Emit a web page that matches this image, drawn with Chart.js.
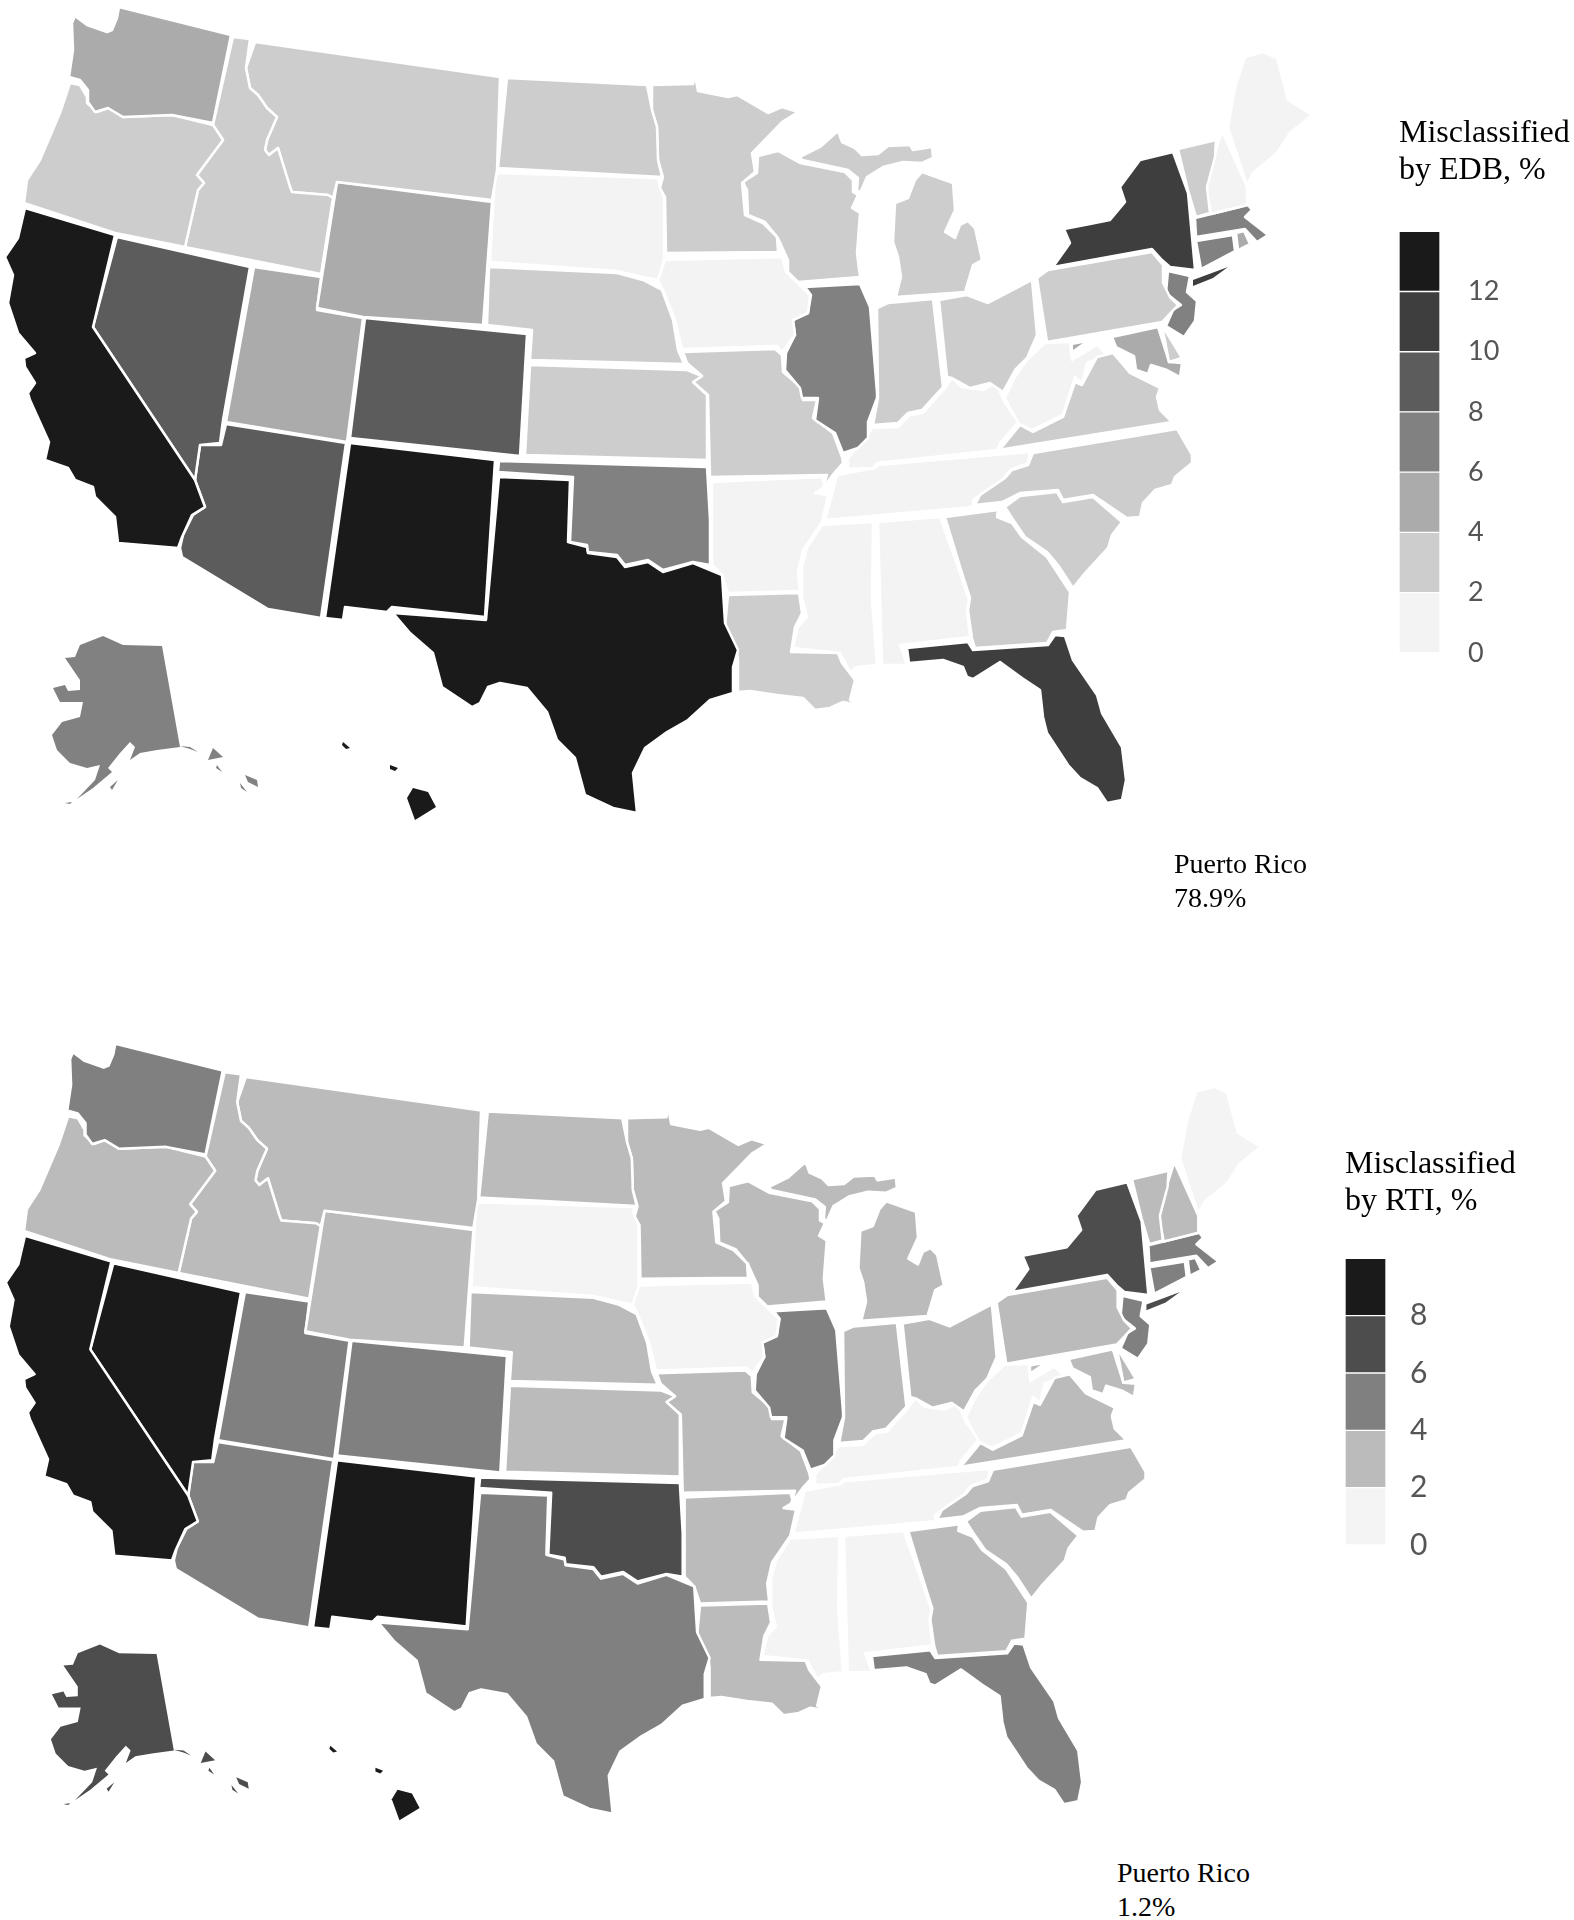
<!DOCTYPE html>
<html>
<head>
<meta charset="utf-8">
<title>Misclassified by EDB and RTI</title>
<script src="https://cdn.jsdelivr.net/npm/chart.js@4"></script>
<style>
body { margin: 0; background: #fff; }
#page { position: relative; width: 1574px; height: 1920px; overflow: hidden; }
canvas { position: absolute; }
#mapEdb { left: 0; top: 0; }
#mapRti { left: 1px; top: 1037px; }
#legendEdb { left: 1399px; top: 105px; }
#legendRti { left: 1345px; top: 1136px; }
.note { position: absolute; font: 28px/34px "Liberation Serif", serif; color: #000; }
</style>
</head>
<body>
<div id="page">
  <canvas id="mapEdb" width="1380" height="850"></canvas>
  <canvas id="mapRti" width="1325" height="812"></canvas>
  <canvas id="legendEdb" width="175" height="592"></canvas>
  <canvas id="legendRti" width="175" height="451"></canvas>
  <div class="note" style="left:1174px;top:847px">Puerto Rico<br>78.9%</div>
  <div class="note" style="left:1117px;top:1856px">Puerto Rico<br>1.2%</div>
</div>
<script>
// state outlines, in map units
const WA = [[119,7],[231,35],[213,123],[172,115],[123,117],[108,108],[95,112],[88,102],[88,90],[80,80],[69,77],[73,50],[72,23],[75,16],[87,25],[107,32],[112,30],[117,18]];
const OR = [[70,83],[80,85],[87,97],[87,103],[97,112],[108,108],[123,117],[172,115],[213,125],[223,140],[197,175],[204,183],[198,190],[185,247],[115,233],[24,203],[27,180],[40,160],[60,113]];
const ID = [[233,37],[250,39],[246,68],[250,88],[258,95],[267,108],[277,117],[267,140],[265,150],[269,155],[278,148],[290,187],[292,192],[328,195],[333,198],[321,274],[185,247],[198,190],[204,183],[197,175],[223,140],[213,125]];
const MT = [[255,42],[500,77],[497,170],[492,200],[337,182],[333,198],[328,195],[292,192],[290,187],[278,148],[269,155],[265,150],[267,140],[277,117],[267,108],[258,95],[250,88],[246,68]];
const WY = [[337,182],[492,202],[483,325],[363,317],[317,308]];
const CA = [[25,208],[115,235],[93,327],[195,480],[205,507],[192,515],[182,537],[178,548],[118,543],[115,517],[95,497],[93,487],[75,480],[68,468],[45,460],[49,442],[30,400],[28,393],[35,383],[25,367],[24,358],[35,353],[18,333],[8,303],[13,275],[5,257],[18,238]];
const NV = [[117,237],[250,267],[223,420],[220,443],[200,445],[195,480],[93,327]];
const UT = [[254,267],[321,277],[317,310],[363,318],[347,442],[226,422]];
const AZ = [[226,424],[346,443],[321,618],[268,609],[182,557],[180,548],[183,535],[193,515],[205,507],[195,480],[200,445],[221,445]];
const NM = [[350,443],[495,460],[485,617],[392,607],[387,612],[345,607],[343,620],[325,618]];
const CO = [[365,318],[527,334],[520,456],[350,438]];
const ND = [[507,78],[647,85],[652,110],[657,127],[658,160],[662,177],[498,168]];
const SD = [[495,173],[658,178],[660,188],[664,197],[664,260],[658,280],[643,277],[617,271],[490,262]];
const NE = [[489,267],[617,273],[643,280],[662,290],[673,320],[678,350],[684,364],[530,360],[532,330],[487,325]];
const KS = [[530,365],[687,370],[702,376],[693,382],[707,395],[707,460],[525,455]];
const OK = [[499,461],[707,467],[710,520],[710,565],[693,562],[663,570],[648,560],[625,565],[617,555],[588,552],[587,545],[570,542],[573,477],[498,472]];
const TX = [[499,477],[570,480],[568,542],[587,547],[588,553],[617,557],[625,567],[648,562],[663,572],[693,563],[722,575],[725,623],[738,650],[733,667],[733,693],[710,700],[688,720],[667,732],[645,748],[633,773],[637,813],[613,808],[585,795],[575,758],[557,740],[547,712],[527,688],[500,683],[488,687],[480,703],[472,707],[442,687],[433,653],[410,633],[393,613],[486,620]];
const MN = [[652,85],[693,84],[695,75],[698,91],[728,97],[737,95],[768,113],[782,107],[798,112],[782,122],[752,153],[755,172],[742,183],[745,215],[763,223],[777,237],[778,252],[666,253],[665,197],[660,188],[663,177],[658,160],[657,127],[652,110]];
const WI = [[758,156],[778,151],[800,163],[845,172],[853,180],[853,192],[858,195],[852,208],[860,213],[857,253],[860,277],[798,282],[788,272],[788,260],[778,238],[765,222],[748,215],[747,190],[743,182],[757,173]];
const IA = [[665,260],[782,257],[786,272],[810,295],[808,313],[793,320],[795,335],[782,352],[777,346],[682,349],[675,320],[663,290],[658,280]];
const IL = [[805,287],[860,284],[870,307],[877,393],[877,398],[868,422],[868,438],[858,448],[843,453],[835,433],[815,420],[818,398],[802,398],[800,388],[785,370],[786,353],[795,335],[793,320],[808,313],[811,295]];
const IN = [[877,308],[888,303],[933,299],[943,387],[922,410],[908,413],[898,423],[873,425],[878,398]];
const OH = [[939,300],[967,295],[988,303],[1032,280],[1037,335],[1027,358],[1015,370],[1003,392],[990,383],[970,388],[952,378],[947,377]];
const MI_LOWER = [[922,172],[953,183],[955,210],[945,232],[955,238],[960,225],[968,221],[975,228],[982,260],[973,265],[965,292],[896,297],[901,277],[898,257],[893,242],[895,203],[908,198],[915,180]];
const MI_UPPER = [[800,157],[820,147],[838,131],[842,142],[855,148],[862,155],[878,154],[888,146],[910,145],[913,150],[932,147],[933,158],[922,163],[903,162],[883,167],[867,177],[860,193],[857,190],[858,178],[848,170],[802,160]];
const MO = [[683,352],[775,349],[782,355],[783,372],[802,388],[803,400],[817,400],[813,418],[833,433],[842,457],[843,463],[835,472],[823,488],[827,475],[710,477],[708,395],[693,382],[702,376],[687,363]];
const AR = [[712,482],[822,477],[825,487],[815,493],[828,495],[822,522],[803,550],[798,572],[800,591],[728,593],[722,575],[712,565],[712,510]];
const LA = [[728,595],[799,593],[802,613],[795,627],[791,652],[838,653],[842,663],[855,680],[850,700],[859,705],[843,702],[830,708],[815,710],[803,698],[777,695],[750,691],[738,692],[738,660],[737,650],[725,627]];
const MS = [[822,525],[873,522],[872,600],[877,665],[857,667],[850,672],[840,653],[793,648],[798,627],[807,617],[802,597],[802,567],[807,548]];
const AL = [[878,522],[940,517],[960,573],[969,600],[967,610],[970,637],[900,645],[907,665],[882,665]];
const GA = [[945,517],[998,510],[997,517],[1012,523],[1022,537],[1047,557],[1070,592],[1067,630],[1053,632],[1047,643],[975,648],[972,638],[968,610],[970,598],[962,573]];
const FL = [[907,648],[968,642],[973,650],[1048,645],[1055,635],[1065,636],[1073,660],[1097,695],[1102,713],[1122,747],[1126,780],[1122,800],[1107,803],[1097,788],[1080,778],[1068,765],[1047,733],[1043,717],[1040,690],[1022,678],[1000,662],[973,679],[967,677],[963,667],[943,660],[909,663]];
const SC = [[1005,507],[1020,496],[1057,492],[1063,502],[1093,497],[1122,522],[1112,535],[1108,548],[1085,573],[1073,588],[1058,565],[1047,552],[1025,537],[1012,518]];
const NC = [[1033,453],[1177,429],[1192,455],[1192,463],[1175,477],[1172,485],[1155,490],[1143,503],[1140,517],[1127,518],[1093,495],[1063,500],[1058,490],[1020,493],[1002,502],[975,505],[980,495],[1005,478],[1012,470],[1028,465]];
const TN = [[837,475],[875,468],[878,465],[1030,452],[1028,463],[1010,470],[1002,480],[987,490],[973,500],[973,507],[825,520],[832,495]];
const KY = [[872,428],[898,427],[910,415],[923,413],[945,388],[952,378],[962,387],[983,390],[995,383],[1000,392],[1005,403],[1018,422],[1000,443],[997,450],[877,463],[873,468],[848,469],[848,458],[855,450],[863,442]];
const VA = [[1002,447],[1020,425],[1033,432],[1063,417],[1075,382],[1082,385],[1097,357],[1113,353],[1130,373],[1160,388],[1157,397],[1160,410],[1172,422],[998,450]];
const WV = [[1005,398],[1015,377],[1027,360],[1045,343],[1070,342],[1072,360],[1097,345],[1107,355],[1087,363],[1082,383],[1075,377],[1063,415],[1032,430],[1018,423]];
const PA = [[1037,278],[1048,270],[1152,252],[1163,265],[1163,283],[1170,297],[1178,305],[1162,322],[1047,342]];
const NY = [[1053,267],[1070,243],[1064,229],[1090,224],[1110,220],[1125,202],[1120,187],[1140,160],[1173,152],[1188,193],[1195,270],[1170,267],[1162,260],[1152,249]];
const NY_ISLAND = [[1193,280],[1228,267],[1213,278],[1193,286]];
const VT = [[1178,149],[1216,140],[1215,157],[1207,187],[1210,213],[1196,217],[1188,190]];
const NH = [[1222,131],[1247,187],[1247,205],[1211,214],[1206,190],[1216,150]];
const ME = [[1228,127],[1247,185],[1253,173],[1277,153],[1290,133],[1312,115],[1288,100],[1277,58],[1263,52],[1245,57],[1235,88]];
const MA = [[1195,218],[1248,205],[1252,210],[1245,217],[1268,235],[1257,242],[1245,229],[1196,237]];
const CT = [[1196,241],[1233,235],[1235,251],[1201,269]];
const RI = [[1236,233],[1244,231],[1250,244],[1238,250]];
const NJ = [[1168,271],[1190,276],[1187,292],[1197,301],[1195,321],[1184,337],[1166,326],[1173,310],[1181,305],[1166,293]];
const DE = [[1162,325],[1182,358],[1169,362]];
const MD = [[1112,337],[1158,327],[1169,362],[1182,363],[1180,377],[1167,370],[1151,365],[1148,374],[1136,370],[1134,356],[1116,347]];
const MD_WEST = [[1073,345],[1083,343],[1073,350]];
const AK = [[103,636],[123,645],[162,646],[180,747],[157,750],[140,753],[130,760],[135,747],[130,742],[120,753],[108,768],[112,772],[93,788],[77,799],[95,780],[100,765],[87,768],[70,763],[57,750],[52,735],[62,722],[80,717],[83,702],[60,702],[53,688],[65,685],[68,691],[80,690],[80,680],[65,658],[75,657],[80,645]];
const AK_STRIP = [[180,746],[190,747],[198,752],[190,749]];
const AK_ISLE1 = [[213,748],[223,757],[208,760]];
const AK_ISLE2 = [[217,765],[222,772],[216,768]];
const AK_ISLE3 = [[245,775],[257,780],[258,787],[248,782]];
const AK_ISLE4 = [[240,783],[247,792],[241,788]];
const AK_ISLE5 = [[118,780],[112,790],[110,787]];
const AK_ISLE6 = [[65,803],[72,802],[70,804]];
const HI_BIG = [[413,788],[428,792],[436,807],[415,820],[407,798]];
const HI_MAUI = [[390,765],[398,768],[395,771],[390,769]];
const HI_KAUAI = [[343,742],[350,748],[346,749],[342,745]];

const stateNames = ['WA','OR','ID','MT','WY','CA','NV','UT','AZ','NM','CO','ND','SD','NE','KS','OK','TX','MN','WI','IA','IL','IN','OH','MI','MO','AR','LA','MS','AL','GA','FL','SC','NC','TN','KY','VA','WV','PA','NY','VT','NH','ME','MA','CT','RI','NJ','DE','MD','AK','HI'];
const stateOutlines = [[WA],[OR],[ID],[MT],[WY],[CA],[NV],[UT],[AZ],[NM],[CO],[ND],[SD],[NE],[KS],[OK],[TX],[MN],[WI],[IA],[IL],[IN],[OH],[MI_LOWER,MI_UPPER],[MO],[AR],[LA],[MS],[AL],[GA],[FL],[SC],[NC],[TN],[KY],[VA],[WV],[PA],[NY,NY_ISLAND],[VT],[NH],[ME],[MA],[CT],[RI],[NJ],[DE],[MD,MD_WEST],[AK,AK_STRIP,AK_ISLE1,AK_ISLE2,AK_ISLE3,AK_ISLE4,AK_ISLE5,AK_ISLE6],[HI_BIG,HI_MAUI,HI_KAUAI]];
// islands and such, the white border would eat them
const borderlessParts = [NY_ISLAND,MD_WEST,AK,AK_STRIP,AK_ISLE1,AK_ISLE2,AK_ISLE3,AK_ISLE4,AK_ISLE5,AK_ISLE6,HI_BIG,HI_MAUI,HI_KAUAI];

// percent misclassified, read from the shade of each state
const edbValues = [5,3,3,3,5,13,9,5,9,13,9,3,1,3,3,7,13,3,3,1,7,3,3,3,3,1,3,1,1,3,11,3,3,1,1,3,1,3,11,3,1,1,7,7,5,7,3,5,7,13];
const rtiValues = [5,3,3,3,3,9,9,5,5,9,5,3,1,3,3,7,5,3,3,1,5,3,3,3,3,3,3,1,1,3,5,3,3,1,1,3,1,3,7,3,3,1,5,5,5,5,3,3,7,9];

const edbColors = ['#f3f3f3','#cdcdcd','#ababab','#818181','#5c5c5c','#3e3e3e','#1a1a1a'];
const rtiColors = ['#f4f4f4','#bbbbbb','#808080','#4d4d4d','#1a1a1a'];
const edbTicks = [0,2,4,6,8,10,12];
const rtiTicks = [0,2,4,6,8];
const binSize = 2;

function drawMap(id, values, colors) {
    var datasets = [];
    stateNames.forEach((name, i) => {
        var color = colors[Math.floor(values[i] / binSize)];
        stateOutlines[i].forEach(part => {
            var points = part.concat([part[0]]).map(p => ({x: p[0], y: p[1]}));
            datasets.push({
                label: name,
                data: points,
                showLine: true,
                fill: 'shape',
                backgroundColor: color,
                borderColor: '#ffffff',
                borderWidth: borderlessParts.includes(part) ? 0 : 2.5,
                borderJoinStyle: 'round',
                tension: 0,
                pointRadius: 0,
                clip: false
            });
        });
    });
    new Chart(document.getElementById(id), {
        type: 'scatter',
        data: {datasets: datasets},
        options: {
            responsive: false,
            animation: false,
            events: [],
            layout: {padding: 0},
            plugins: {legend: {display: false}, tooltip: {enabled: false}},
            scales: {
                x: {type: 'linear', display: false, min: 0, max: 1380},
                y: {type: 'linear', display: false, min: 0, max: 850, reverse: true}
            }
        }
    });
}

function drawLegend(id, title, colors, ticks, tickSize, tickPadding, titleGap) {
    new Chart(document.getElementById(id), {
        type: 'bar',
        data: {
            labels: [''],
            datasets: colors.map(c => ({
                data: [binSize],
                backgroundColor: c,
                borderColor: '#ffffff',
                borderWidth: 1,
                borderSkipped: false
            }))
        },
        options: {
            responsive: false,
            animation: false,
            events: [],
            layout: {padding: {top: 0, bottom: 0}},
            barPercentage: 1,
            categoryPercentage: 1,
            plugins: {
                legend: {display: false},
                tooltip: {enabled: false},
                title: {
                    display: true,
                    text: title,
                    align: 'start',
                    color: '#000000',
                    padding: {top: 11, bottom: titleGap},
                    font: {family: '"Liberation Serif", serif', size: 32, weight: 'normal', lineHeight: 1.13}
                }
            },
            scales: {
                x: {stacked: true, display: false},
                y: {
                    stacked: true,
                    position: 'right',
                    min: 0,
                    max: colors.length * binSize,
                    afterFit: s => { s.width = 134; },
                    afterBuildTicks: s => { s.ticks = ticks.map(v => ({value: v})); },
                    grid: {display: false, drawTicks: false},
                    border: {display: false},
                    ticks: {
                        padding: tickPadding,
                        color: '#555555',
                        font: {family: 'Lato, sans-serif', size: tickSize}
                    }
                }
            }
        }
    });
}

drawMap('mapEdb', edbValues, edbColors);
drawMap('mapRti', rtiValues, rtiColors);
drawLegend('legendEdb', ['Misclassified', 'by EDB, %'], edbColors, edbTicks, 27, 28, 43);
drawLegend('legendRti', ['Misclassified', 'by RTI, %'], rtiColors, rtiTicks, 30, 24, 39);
</script>
</body>
</html>
